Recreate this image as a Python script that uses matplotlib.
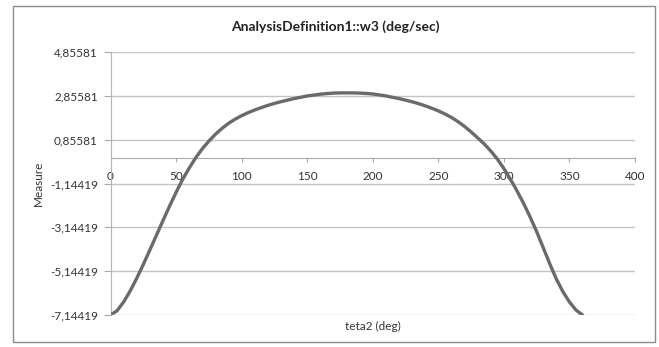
import numpy as np
import matplotlib
matplotlib.use("Agg")
import matplotlib.pyplot as plt
from matplotlib.patches import Rectangle

# Angular velocity of link 3 over one crank revolution (every 5 deg)
teta2 = list(range(0, 361, 5))
w3 = [-7.144, -6.95, -6.55, -6.05, -5.47, -4.84, -4.18, -3.51, -2.84, -2.18,
      -1.55, -0.96, -0.44, 0.03, 0.44, 0.79, 1.10, 1.37, 1.60, 1.79,
      1.95, 2.09, 2.21, 2.32, 2.42, 2.51, 2.59, 2.66, 2.73, 2.79,
      2.85, 2.89, 2.93, 2.96, 2.98, 2.99, 2.99, 2.99, 2.98, 2.965,
      2.94, 2.90, 2.85, 2.79, 2.73, 2.66, 2.585, 2.50, 2.40, 2.29,
      2.17, 2.03, 1.87, 1.68, 1.46, 1.21, 0.94, 0.66, 0.34, -0.03,
      -0.46, -0.95, -1.48, -2.05, -2.67, -3.34, -4.07, -4.81, -5.50, -6.08,
      -6.55, -6.92, -7.144]

x_ticks = [0, 50, 100, 150, 200, 250, 300, 350, 400]
y_ticks = [-7.14419, -5.14419, -3.14419, -1.14419, 0.85581, 2.85581, 4.85581]
y_tick_labels = ["-7,14419", "-5,14419", "-3,14419", "-1,14419",
                 "0,85581", "2,85581", "4,85581"]

title = "AnalysisDefinition1::w3 (deg/sec)"
x_label = "teta2 (deg)"
y_label = "Measure"

plt.rcParams["font.family"] = ["Lato", "DejaVu Sans"]

W, H = 659, 347
fig = plt.figure(figsize=(W / 100, H / 100), dpi=100)

# chart frame
fig.patches.append(Rectangle((13 / W, 1 - 342 / H), (655 - 13) / W, (342 - 6) / H,
                             transform=fig.transFigure, fill=False,
                             edgecolor="#8c8c8c", linewidth=1.0))

left, right, top, bottom = 110.5, 635, 52, 315
ax = fig.add_axes([left / W, 1 - bottom / H, (right - left) / W, (bottom - top) / H])

ax.plot(teta2, w3, color="#6a6a6a", linewidth=2.4, solid_capstyle="round",
        solid_joinstyle="round", zorder=3)

ax.set_xlim(0, 400)
ax.set_ylim(y_ticks[0], y_ticks[-1])

ax.set_yticks(y_ticks)
ax.set_yticklabels(y_tick_labels)
ax.set_xticks(x_ticks)
ax.set_xticklabels([str(v) for v in x_ticks])

ax.grid(axis="y", color="#c4c4c4", linewidth=1.0)
ax.set_axisbelow(True)

for s in ("top", "right"):
    ax.spines[s].set_visible(False)
ax.spines["left"].set_color("#b4b4b4")
ax.spines["bottom"].set_position(("data", 0))
ax.spines["bottom"].set_color("#a8a8a8")

ax.tick_params(axis="y", direction="out", length=5, color="#a8a8a8",
               labelsize=8.5, pad=4, labelcolor="#333333")
ax.tick_params(axis="x", direction="out", length=3, color="#a8a8a8",
               labelsize=8.5, pad=6, labelcolor="#333333")

fig.text(335.5 / W, 1 - 27 / H, title, ha="center", va="center",
         fontsize=10, fontweight="bold", color="#222222")
fig.text(38 / W, 1 - 183.5 / H, y_label, ha="center", va="center",
         rotation=90, fontsize=8.5, color="#333333")
fig.text(373 / W, 1 - 326 / H, x_label, ha="center", va="center",
         fontsize=8.5, color="#333333")

fig.savefig("out.png", dpi=100, facecolor="white")
